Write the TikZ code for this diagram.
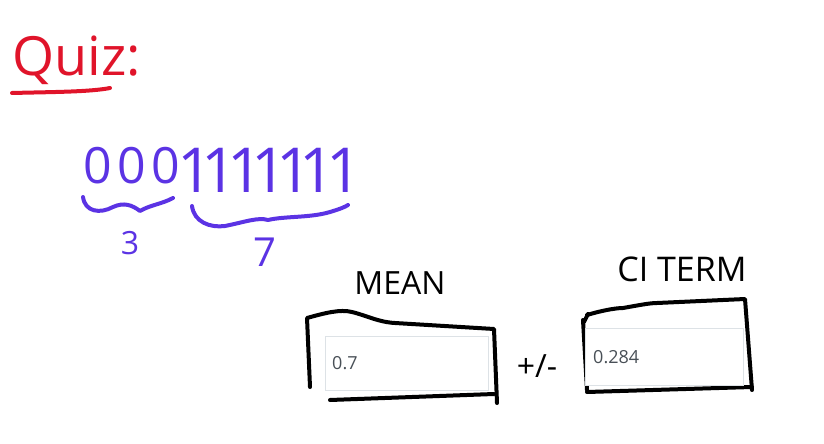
\documentclass[tikz,border=0pt]{standalone}
\usepackage{fontspec}
\setmainfont{Open Sans}
\newfontfamily\uifont{Open Sans}
\usepackage{xcolor}
\usepackage{tikz}
\definecolor{quizred}{HTML}{E0142A}
\definecolor{penblue}{HTML}{5B33E4}
\definecolor{fieldgray}{HTML}{DDE2E6}
\definecolor{fieldtext}{HTML}{495057}

\begin{document}
\begin{tikzpicture}[
  x=1pt, y=-1pt,
  pen/.style={line width=4pt, line cap=round, line join=round},
  redpen/.style={pen, draw=quizred},
  bluepen/.style={pen, draw=penblue},
  blackpen/.style={pen, draw=black},
  bit/.style={text=penblue, inner sep=0pt, anchor=base},
  count/.style={text=penblue, inner sep=0pt},
  caption/.style={font=\fontsize{32}{32}\selectfont, inner sep=0pt},
  field/.style={draw=fieldgray, fill=white, line width=1pt, inner sep=0pt, anchor=north west},
  value/.style={text=fieldtext, font=\uifont\fontsize{18}{18}\selectfont, inner sep=0pt, anchor=west}
]
\useasboundingbox (0,0) rectangle (824,444);
% title
\node[text=quizred, font=\fontsize{54}{54}\selectfont, inner sep=0pt, anchor=base west] (quiz) at (12,75) {Quiz:};
\draw[redpen] (12,93) .. controls (50,92) and (90,92) .. (110,88);
% the ten bits
\foreach \x [count=\i] in {98,132,166}
  \node[bit, font=\fontsize{50}{50}\selectfont] (zero\i) at (\x,183) {0};
\foreach \x [count=\i] in {198,222,248,272,297,320,347}
  \node[bit, font=\fontsize{62}{62}\selectfont] (one\i) at (\x-3,192) {1};
% braces
\draw[bluepen] (83,197) .. controls (85,212) and (100,214) .. (113,207)
  .. controls (124,202) and (132,205) .. (140,211)
  .. controls (150,205) and (162,204) .. (173,198);
\draw[bluepen] (192,206) .. controls (194,222) and (210,228) .. (225,226)
  .. controls (245,222) and (258,217) .. (268,220)
  .. controls (285,216) and (310,218) .. (330,212)
  .. controls (340,209) and (345,207) .. (348,205);
\node[count, font=\fontsize{32}{32}\selectfont] (three) at (130,243) {3};
\node[count, font=\fontsize{40}{40}\selectfont] (seven) at (265,252) {7};
% mean box
\node[caption] (mean) at (400,283) {MEAN};
\draw[blackpen] (310,387) -- (307,318) .. controls (325,313) and (340,309) .. (352,312)
  .. controls (368,316) and (378,322) .. (395,323) -- (494,329) -- (497,403);
\draw[blackpen] (330,400) -- (494,394);
\node[field, minimum width=163pt, minimum height=54pt] (meanfield) at (325,336) {};
\node[value] (meanval) at ([xshift=7pt]meanfield.west) {0.7};
% plus/minus
\node[caption] (pm) at (537,366) {+/-};
% ci term box
\node[caption, font=\fontsize{34}{34}\selectfont] (citerm) at (682,269) {CI TERM};
\draw[blackpen] (584,322) -- (588,314);
\draw[blackpen] (583,320) -- (587,390);
\draw[blackpen] (587,315) .. controls (600,311) and (615,308) .. (623,308)
  .. controls (640,305) and (650,303) .. (657,303) -- (745,299) -- (752,390);
\draw[blackpen] (587,392) -- (752,387);
\node[field, minimum width=158pt, minimum height=57pt] (cifield) at (585,328) {};
\node[value] (cival) at ([xshift=8pt]cifield.west) {0.284};
\end{tikzpicture}
\end{document}
